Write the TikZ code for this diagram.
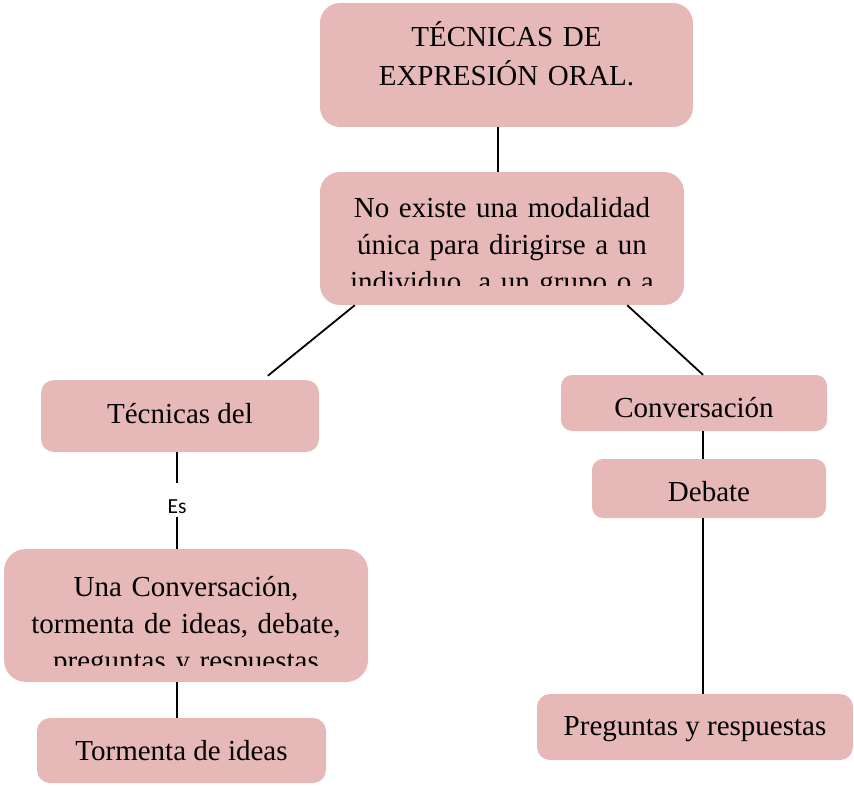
\documentclass[tikz,border=0pt]{standalone}
\usepackage{fontspec}
\setmainfont{Liberation Serif}
\newfontfamily\calibri{Carlito}
\definecolor{rosa}{HTML}{E6B8B7}
\tikzset{
    caja/.style={fill=rosa, rounded corners=#1, inner sep=0pt},
    caja/.default=11pt,
    texto/.style={font=\fontsize{29}{37}\selectfont, align=center},
    linea/.style={line width=1.8pt},
}
\begin{document}
\begin{tikzpicture}[x=1pt,y=-1pt]
    \useasboundingbox (0,0) rectangle (854,786);

        % cajas de arriba
    \node[caja=20pt, texto, font=\fontsize{29}{39}\selectfont, text width=373pt,
          text height=44pt, text depth=80pt] (tit) at (506.5,65) {TÉCNICAS DE\\EXPRESIÓN ORAL.};
    \node[caja=20pt, minimum width=364pt, minimum height=133pt] (nota) at (502,238.5) {};
    \begin{scope}
        \clip (320,172) rectangle (684,286);
        \node[texto, text width=364pt, inner sep=0pt, anchor=base] (nota-txt) at (502,218)
            {No existe una modalidad\\única para dirigirse a un\\individuo, a un grupo o a};
    \end{scope}

        % rama izquierda
    \node[caja=13pt, texto, minimum width=278pt, text height=43pt, text depth=29pt] (tecdel) at (180,416) {Técnicas del};
    \node[font=\calibri\fontsize{21.5}{26}\selectfont, inner sep=0pt, text height=30pt, text depth=4pt] (es) at (177,500) {Es};
    \node[caja=22pt, minimum width=364pt, minimum height=133pt] (una) at (186,615.5) {};
    \begin{scope}
        \clip (4,549) rectangle (368,665);
        \node[texto, text width=364pt, inner sep=0pt, anchor=base] (una-txt) at (186,596)
            {Una Conversación,\\tormenta de ideas, debate,\\preguntas y respuestas};
    \end{scope}
    \node[caja=13pt, texto, minimum width=289pt, text height=42pt, text depth=23pt] (torm) at (181.5,750.5) {Tormenta de ideas};

        % rama derecha
    \node[caja, texto, minimum width=266pt, text height=42pt, text depth=14pt] (conv) at (694,403) {Conversación};
    \node[caja, texto, minimum width=234pt, text height=42pt, text depth=17pt] (deb) at (709,488.5) {Debate};
    \node[caja=13pt, texto, minimum width=316pt, text height=41pt, text depth=25pt] (preg) at (695,727) {Preguntas y respuestas};

        % conectores
    \draw[linea] ([xshift=-8.5pt]tit.south) -- ([xshift=-8.5pt]tit.south |- nota.north);
    \draw[linea] ([xshift=35pt]nota.south west) -- ([xshift=227pt,yshift=4pt]tecdel.north west);
    \draw[linea] ([xshift=-57pt]nota.south east) -- ([xshift=9pt]conv.north);
    \draw[linea] (es.north) -- (es.north |- tecdel.south);
    \draw[linea] (es.south) -- (es.south |- una.north);
    \draw[linea] ([xshift=-9pt]una.south) -- ([xshift=-9pt]una.south |- torm.north);
    \draw[linea] ([xshift=9pt]conv.south) -- ([xshift=9pt]conv.south |- deb.north);
    \draw[linea] ([xshift=-6pt]deb.south) -- ([xshift=-6pt]deb.south |- preg.north);
\end{tikzpicture}
\end{document}
